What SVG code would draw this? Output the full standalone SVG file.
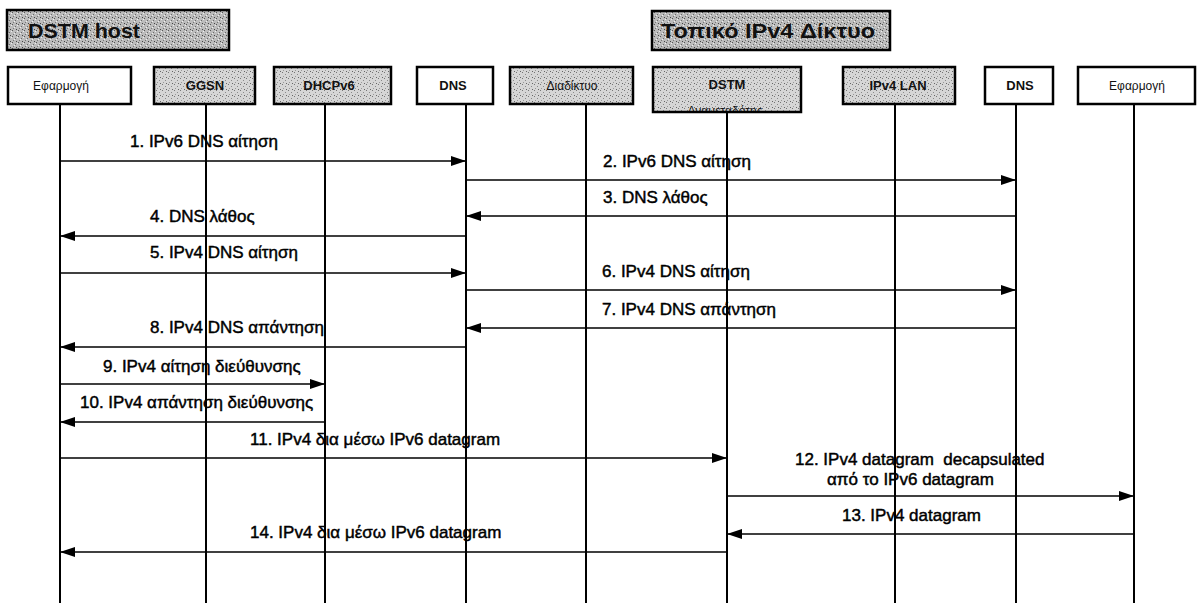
<svg xmlns="http://www.w3.org/2000/svg" width="1203" height="603" viewBox="0 0 1203 603">
<style>
.box{stroke:#000;stroke-width:2.5}
.w{fill:#fff}
.g{fill:url(#stip)}
.t{fill:url(#stipd)}
.nt{font-family:"Liberation Sans",Arial,sans-serif;font-size:12px;fill:#111;text-anchor:middle}
.nb{font-family:"Liberation Sans",Arial,sans-serif;font-size:13px;font-weight:bold;fill:#111;text-anchor:middle}
.tt{font-family:"Liberation Sans",Arial,sans-serif;font-size:20px;font-weight:bold;fill:#111}
.life{stroke:#000;stroke-width:2}
.msg{stroke:#000;stroke-width:1.7;fill:none;marker-end:url(#ah)}
.lb{font-family:"Liberation Sans",Arial,sans-serif;font-size:17px;fill:#000;stroke:#000;stroke-width:0.45}
</style>
<defs>
<pattern id="stip" width="6" height="6" patternUnits="userSpaceOnUse">
<rect width="6" height="6" fill="#d6d6d6"/>
<rect x="0" y="0" width="1" height="1" fill="#777"/>
<rect x="3" y="2" width="1" height="1" fill="#8a8a8a"/>
<rect x="1" y="4" width="1" height="1" fill="#999"/>
<rect x="4" y="5" width="1" height="1" fill="#666"/>
</pattern>
<pattern id="stipd" width="6" height="6" patternUnits="userSpaceOnUse">
<rect width="6" height="6" fill="#bcbcbc"/>
<rect x="0" y="0" width="1" height="1" fill="#555"/>
<rect x="3" y="2" width="1" height="1" fill="#6a6a6a"/>
<rect x="1" y="4" width="1" height="1" fill="#777"/>
<rect x="4" y="5" width="1" height="1" fill="#444"/>
<rect x="5" y="1" width="1" height="1" fill="#eee"/>
<rect x="2" y="3" width="1" height="1" fill="#eee"/>
</pattern>
<marker id="ah" markerUnits="userSpaceOnUse" markerWidth="15" markerHeight="10" refX="15" refY="5" orient="auto">
<path d="M0,0 L15,5 L0,10 z" fill="#000"/>
</marker>
<clipPath id="dstmclip"><rect x="654" y="68" width="146" height="43"/></clipPath>
</defs>
<rect width="1203" height="603" fill="#fff"/>

<g id="title-dstm-host">
<rect class="box t" x="7" y="10" width="222" height="40"/>
<text class="tt" x="28" y="38" textLength="112" lengthAdjust="spacingAndGlyphs">DSTM host</text>
</g>
<g id="title-local-ipv4">
<rect class="box t" x="652" y="11" width="238" height="39"/>
<text class="tt" x="661" y="38" textLength="214" lengthAdjust="spacingAndGlyphs">Τοπικό IPv4 Δίκτυο</text>
</g>

<g id="lifelines">
<line class="life" x1="60" y1="104" x2="60" y2="603"/>
<line class="life" x1="206" y1="104" x2="206" y2="603"/>
<line class="life" x1="325" y1="104" x2="325" y2="603"/>
<line class="life" x1="466" y1="104" x2="466" y2="603"/>
<line class="life" x1="586" y1="104" x2="586" y2="603"/>
<line class="life" x1="727" y1="112" x2="727" y2="603"/>
<line class="life" x1="895" y1="104" x2="895" y2="603"/>
<line class="life" x1="1016" y1="104" x2="1016" y2="603"/>
<line class="life" x1="1134" y1="104" x2="1134" y2="603"/>
</g>

<g id="node-app1"><rect class="box w" x="8" y="67" width="123" height="37"/><text class="nt" x="61" y="90">Εφαρμογή</text></g>
<g id="node-ggsn"><rect class="box g" x="154" y="67" width="101" height="37"/><text class="nb" x="205" y="90">GGSN</text></g>
<g id="node-dhcpv6"><rect class="box g" x="274" y="67" width="117" height="37"/><text class="nb" x="329" y="90">DHCPv6</text></g>
<g id="node-dns1"><rect class="box w" x="417" y="67" width="76" height="37"/><text class="nb" x="453" y="90">DNS</text></g>
<g id="node-internet"><rect class="box g" x="510" y="67" width="123" height="37"/><text class="nt" x="572" y="90">Διαδίκτυο</text></g>
<g id="node-dstm"><rect class="box g" x="653" y="67" width="148" height="45"/><text class="nb" x="727" y="89">DSTM</text><text class="nt" x="725" y="115" clip-path="url(#dstmclip)">Αναμεταδότης</text></g>
<g id="node-ipv4lan"><rect class="box g" x="843" y="67" width="112" height="37"/><text class="nb" x="898" y="90">IPv4 LAN</text></g>
<g id="node-dns2"><rect class="box w" x="985" y="67" width="68" height="37"/><text class="nb" x="1020" y="90">DNS</text></g>
<g id="node-app2"><rect class="box w" x="1078" y="67" width="117" height="37"/><text class="nt" x="1137" y="90">Εφαρμογή</text></g>

<g id="connectors">
<line class="msg" x1="60" y1="161" x2="466" y2="161"/>
<line class="msg" x1="466" y1="180" x2="1016" y2="180"/>
<line class="msg" x1="1016" y1="216" x2="466" y2="216"/>
<line class="msg" x1="466" y1="236" x2="60" y2="236"/>
<line class="msg" x1="60" y1="273" x2="466" y2="273"/>
<line class="msg" x1="466" y1="290" x2="1016" y2="290"/>
<line class="msg" x1="1016" y1="328" x2="466" y2="328"/>
<line class="msg" x1="466" y1="347" x2="60" y2="347"/>
<line class="msg" x1="60" y1="384" x2="325" y2="384"/>
<line class="msg" x1="325" y1="422" x2="60" y2="422"/>
<line class="msg" x1="60" y1="458" x2="727" y2="458"/>
<line class="msg" x1="727" y1="496" x2="1134" y2="496"/>
<line class="msg" x1="1134" y1="534" x2="727" y2="534"/>
<line class="msg" x1="727" y1="552" x2="60" y2="552"/>
</g>

<g id="labels">
<text class="lb" x="130" y="147">1. IPv6 DNS αίτηση</text>
<text class="lb" x="603" y="167">2. IPv6 DNS αίτηση</text>
<text class="lb" x="603" y="203">3. DNS λάθος</text>
<text class="lb" x="150" y="222">4. DNS λάθος</text>
<text class="lb" x="150" y="258">5. IPv4 DNS αίτηση</text>
<text class="lb" x="602" y="277">6. IPv4 DNS αίτηση</text>
<text class="lb" x="602" y="315">7. IPv4 DNS απάντηση</text>
<text class="lb" x="150" y="333">8. IPv4 DNS απάντηση</text>
<text class="lb" x="103" y="372">9. IPv4 αίτηση διεύθυνσης</text>
<text class="lb" x="80" y="408">10. IPv4 απάντηση διεύθυνσης</text>
<text class="lb" x="250" y="445">11. IPv4 δια μέσω IPv6 datagram</text>
<text class="lb" x="795" y="465" xml:space="preserve">12. IPv4 datagram  decapsulated</text>
<text class="lb" x="827" y="485">από το IPv6 datagram</text>
<text class="lb" x="842" y="521">13. IPv4 datagram</text>
<text class="lb" x="250" y="538">14. IPv4 δια μέσω IPv6 datagram</text>
</g>
</svg>
